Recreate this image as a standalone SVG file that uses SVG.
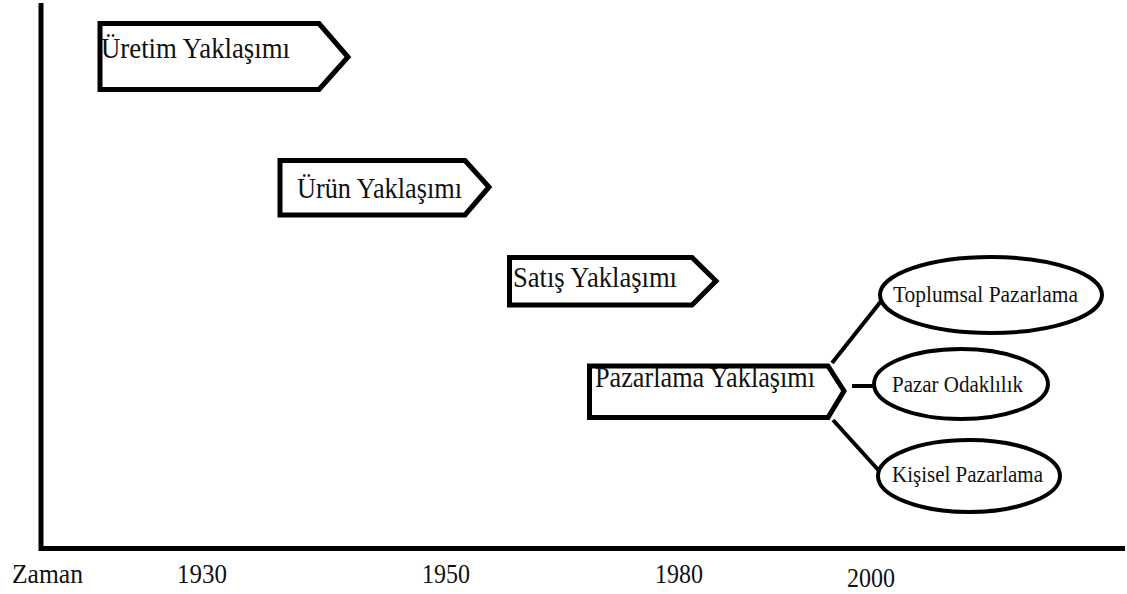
<svg xmlns="http://www.w3.org/2000/svg" width="1127" height="594" viewBox="0 0 1127 594">
<style>
.box{fill:#fff;stroke:#000;stroke-width:5;stroke-linejoin:miter}
.ell{fill:#fff;stroke:#000;stroke-width:4}
.con{stroke:#000;stroke-width:4;fill:none}
.ax{stroke:#000;stroke-width:5;fill:none}
text{font-family:"Liberation Serif","Times New Roman",serif;fill:#111}
.bt{font-size:30px}
.et{font-size:24px}
.lt{font-size:27px}
</style>
<rect width="1127" height="594" fill="#fff"/>
<g id="axes">
<path class="ax" d="M41,3 V548.5 H1125"/>
</g>
<g id="labels">
<text class="lt" x="12" y="583" textLength="71" lengthAdjust="spacingAndGlyphs">Zaman</text>
<text class="lt" x="177" y="583" textLength="50" lengthAdjust="spacingAndGlyphs">1930</text>
<text class="lt" x="422" y="583" textLength="48" lengthAdjust="spacingAndGlyphs">1950</text>
<text class="lt" x="655" y="583" textLength="48" lengthAdjust="spacingAndGlyphs">1980</text>
<text class="lt" x="847" y="587" textLength="48" lengthAdjust="spacingAndGlyphs">2000</text>
</g>
<g id="connectors">
<line class="con" x1="832" y1="363" x2="882" y2="300"/>
<line class="con" x1="852" y1="386" x2="874" y2="386"/>
<line class="con" x1="833" y1="420" x2="881" y2="473"/>
</g>
<g id="uretim">
<path class="box" d="M100,23.5 H319 L348,57 L319,89.5 H100 Z"/>
<text class="bt" x="101" y="58" textLength="189" lengthAdjust="spacingAndGlyphs">Üretim Yaklaşımı</text>
</g>
<g id="urun">
<path class="box" d="M280,160.5 H465 L489,187 L465,215 H280 Z"/>
<text class="bt" x="297" y="198" textLength="165" lengthAdjust="spacingAndGlyphs">Ürün Yaklaşımı</text>
</g>
<g id="satis">
<path class="box" d="M509.5,257.5 H692 L716,281 L692,305 H509.5 Z"/>
<text class="bt" x="513" y="287" textLength="164" lengthAdjust="spacingAndGlyphs">Satış Yaklaşımı</text>
</g>
<g id="pazarlama">
<path class="box" d="M589.5,366 H828 L844,391 L828,417.5 H589.5 Z"/>
<text class="bt" x="595" y="387" textLength="220" lengthAdjust="spacingAndGlyphs">Pazarlama Yaklaşımı</text>
</g>
<g id="toplumsal">
<ellipse class="ell" cx="991" cy="295" rx="111" ry="38"/>
<text class="et" x="893" y="302" textLength="185" lengthAdjust="spacingAndGlyphs">Toplumsal Pazarlama</text>
</g>
<g id="odaklilik">
<ellipse class="ell" cx="961" cy="384" rx="87" ry="35"/>
<text class="et" x="892" y="392" textLength="131" lengthAdjust="spacingAndGlyphs">Pazar Odaklılık</text>
</g>
<g id="kisisel">
<ellipse class="ell" cx="969" cy="476" rx="91" ry="36"/>
<text class="et" x="892" y="482" textLength="151" lengthAdjust="spacingAndGlyphs">Kişisel Pazarlama</text>
</g>
</svg>
